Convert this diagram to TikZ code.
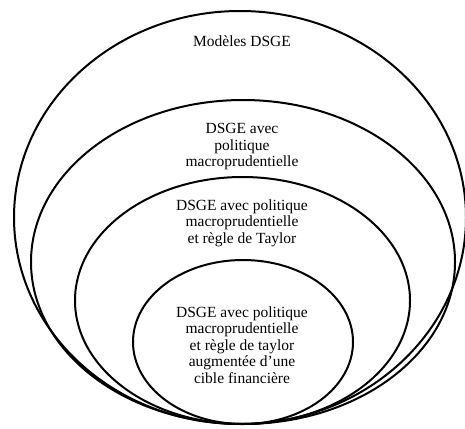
\documentclass[tikz,border=0pt]{standalone}
\usepackage{fontspec}
\setmainfont{Liberation Serif}
\usepackage{tikz}

\tikzset{
  rond/.style={line width=2pt},
  texte/.style={align=center,font=\fontsize{15.5}{16.5}\selectfont,inner sep=0pt}
}

\begin{document}
\begin{tikzpicture}[x=1pt,y=-1pt]
\useasboundingbox (0,0) rectangle (465,428);
\clip (0,0) rectangle (465,428);
% les ensembles emboites
\draw[rond] (240,217.5) ellipse (226 and 206.5);
\draw[rond] (243,262) ellipse (212 and 162);
\draw[rond] (242.5,300.5) ellipse (167.5 and 123.5);
\draw[rond] (243,342) ellipse (110 and 82);
% les textes
\node[texte] (dsge) at (242,41) {Modèles DSGE};
\node[texte] (macro) at (242,147) {DSGE avec\\politique\\macroprudentielle};
\node[texte] (taylor) at (242,223) {DSGE avec politique\\macroprudentielle\\et règle de Taylor};
\node[texte] (cible) at (242,345) {DSGE avec politique\\macroprudentielle\\et règle de taylor\\augmentée d’une\\cible financière};
\end{tikzpicture}
\end{document}
